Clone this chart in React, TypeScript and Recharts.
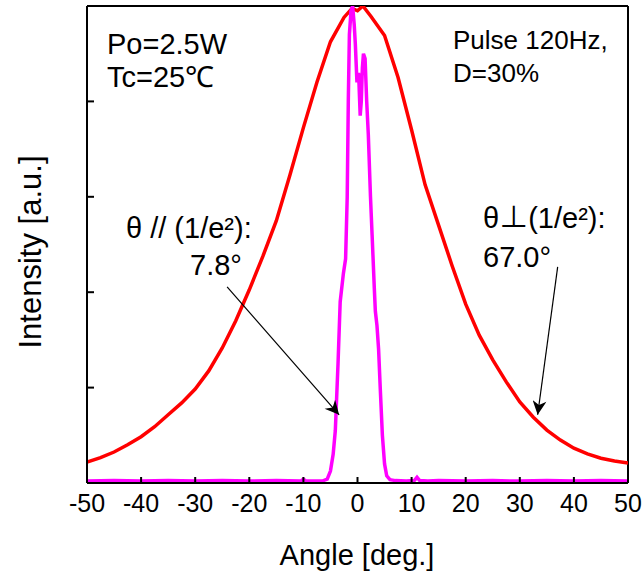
import { LineChart, Line, XAxis, YAxis, ReferenceLine } from "recharts"

// perpendicular (red) far-field profile
const perpAngle = [
  -50, -47.5, -45, -42.5, -40, -37.5, -35, -32.5, -30, -27.5, -25, -22.5, -20, -17.5, -15, -12.5, -10, -7.5, -5,
  -2.5, -1, 0, 1, 2.5, 5, 7.5, 10, 12.5, 15, 17.5, 20, 22.5, 25, 27.5, 30, 32.5, 35, 37.5, 40, 42.5, 45, 47.5, 50,
]
const perpIntensity = [
  0.044, 0.053, 0.065, 0.08, 0.097, 0.118, 0.143, 0.168, 0.197, 0.235, 0.283, 0.34, 0.405, 0.475, 0.55, 0.645,
  0.745, 0.84, 0.925, 0.976, 0.995, 0.99, 1.0, 0.978, 0.938, 0.85, 0.74, 0.625, 0.54, 0.455, 0.375, 0.31, 0.258,
  0.212, 0.17, 0.138, 0.111, 0.09, 0.073, 0.061, 0.052, 0.046, 0.042,
]

// parallel (magenta) far-field profile
const parAngle = [
  -50, -45, -40, -35, -30, -25, -20, -15, -10.5, -10, -9.5, -8, -6.5, -5.6, -5, -4.5, -4.1, -3.6, -3.2, -2.6, -2.2,
  -1.9, -1.7, -1.5, -1.2, -0.9, -0.6, -0.4, -0.1, 0.2, 0.5, 0.7, 0.9, 1.1, 1.4, 1.7, 2, 2.4, 2.7, 3.1, 3.3, 3.6,
  3.9, 4.2, 4.6, 5, 5.4, 6, 7, 9, 10.5, 11, 11.5, 13, 15, 20, 25, 30, 35, 40, 45, 50,
]
const parIntensity = [
  0.004, 0.005, 0.004, 0.005, 0.004, 0.005, 0.004, 0.005, 0.004, 0.008, 0.004, 0.004, 0.004, 0.008, 0.025, 0.06,
  0.11, 0.25, 0.38, 0.44, 0.47, 0.6, 0.8, 0.94, 0.99, 1.0, 0.96, 0.92, 0.84, 0.86, 0.77, 0.8, 0.87, 0.9, 0.89, 0.8,
  0.73, 0.6, 0.52, 0.41, 0.36, 0.33, 0.28, 0.2, 0.1, 0.04, 0.015, 0.007, 0.005, 0.004, 0.005, 0.012, 0.005, 0.004,
  0.005, 0.004, 0.005, 0.004, 0.005, 0.004, 0.005, 0.004,
]

const xTicks = [-50, -40, -30, -20, -10, 0, 10, 20, 30, 40, 50]
const yTicks = [0, 0.2, 0.4, 0.6, 0.8, 1]

const perpData = perpAngle.map((a, i) => ({ angle: a, value: perpIntensity[i] }))
const parData = parAngle.map((a, i) => ({ angle: a, value: parIntensity[i] }))

const font = "'Liberation Sans', Arial, sans-serif"

export default function App() {
  return (
    <div style={{ position: "absolute", left: 0, top: 0, width: 643, height: 573, fontFamily: font }}>
      <LineChart width={643} height={573} margin={{ top: 6, right: 15, left: 0, bottom: 0 }}>
        <defs>
          <marker
            id="arrowHead"
            viewBox="0 0 10 10"
            refX="10"
            refY="5"
            markerWidth="16"
            markerHeight="14"
            markerUnits="userSpaceOnUse"
            orient="auto"
          >
            <path d="M0,0 L10,5 L0,10 L3,5 z" fill="#000" />
          </marker>
        </defs>
        <XAxis
          dataKey="angle"
          type="number"
          domain={[-50, 50]}
          ticks={xTicks}
          allowDataOverflow
          height={90}
          tickSize={-6}
          tickMargin={17}
          stroke="#000"
          strokeWidth={2}
          tick={{ fill: "#000", fontSize: 25, fontFamily: font }}
        />
        <YAxis
          type="number"
          domain={[0, 1]}
          ticks={yTicks}
          allowDataOverflow
          width={87}
          tickFormatter={() => ""}
          tickSize={-7}
          stroke="#000"
          strokeWidth={2}
        />
        <ReferenceLine y={1} stroke="#000" strokeWidth={2} />
        <ReferenceLine x={50} stroke="#000" strokeWidth={2} />
        <Line
          data={perpData}
          dataKey="value"
          type="linear"
          stroke="#ff0000"
          strokeWidth={3.5}
          dot={false}
          isAnimationActive={false}
        />
        <Line
          data={parData}
          dataKey="value"
          type="linear"
          stroke="#ff00ff"
          strokeWidth={3.5}
          dot={false}
          isAnimationActive={false}
        />
        <ReferenceLine
          segment={[
            { x: -24.1, y: 0.411 },
            { x: -3.4, y: 0.143 },
          ]}
          stroke="#000"
          strokeWidth={1.2}
          markerEnd="url(#arrowHead)"
        />
        <ReferenceLine
          segment={[
            { x: 37.0, y: 0.453 },
            { x: 33.3, y: 0.143 },
          ]}
          stroke="#000"
          strokeWidth={1.2}
          markerEnd="url(#arrowHead)"
        />
      </LineChart>
      <svg
        width={643}
        height={573}
        style={{ position: "absolute", left: 0, top: 0, pointerEvents: "none" }}
        fontFamily={font}
        fill="#000"
      >
        <text x={107} y={54} fontSize={29}>Po=2.5W</text>
        <text x={107} y={87} fontSize={29}>Tc=25℃</text>
        <text x={453} y={49} fontSize={26}>Pulse 120Hz,</text>
        <text x={453} y={82} fontSize={26}>D=30%</text>
        <text x={126} y={238} fontSize={29}>θ // (1/e²):</text>
        <text x={190} y={275} fontSize={29}>7.8°</text>
        <text x={483} y={228} fontSize={29}>
          θ<tspan fontFamily="'Noto Sans CJK JP', sans-serif">⊥</tspan>(1/e²):
        </text>
        <text x={483} y={267} fontSize={29}>67.0°</text>
        <text x={357} y={565} fontSize={29} textAnchor="middle">Angle [deg.]</text>
        <text x={0} y={0} fontSize={31} textAnchor="middle" transform="translate(41 252) rotate(-90)">
          Intensity [a.u.]
        </text>
      </svg>
    </div>
  )
}
